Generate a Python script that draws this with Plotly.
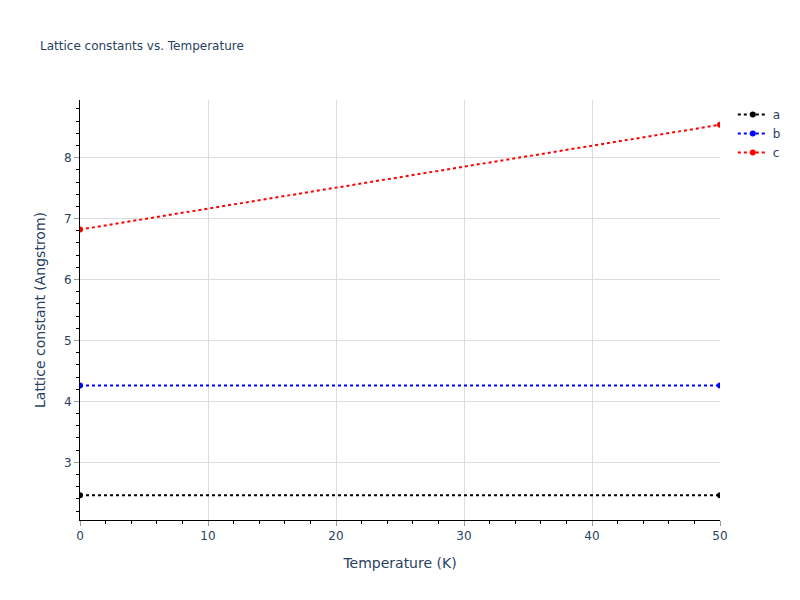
import plotly.graph_objects as go

temperature = [0, 50]
a_vals = [2.46, 2.46]
b_vals = [4.26, 4.26]
c_vals = [6.82, 8.54]
series_names = ["a", "b", "c"]
series_colors = ["black", "blue", "red"]

fig = go.Figure()
for name, vals, col in zip(series_names, [a_vals, b_vals, c_vals], series_colors):
    fig.add_trace(go.Scatter(
        x=temperature, y=vals, name=name, mode="lines+markers",
        line=dict(color=col, width=2, dash="dot"),
        marker=dict(color=col, size=6),
    ))

axis_common = dict(
    showline=True, linecolor="black", linewidth=1,
    ticks="outside", tickcolor="#999999", ticklen=5,
    showgrid=True, gridcolor="#dddddd", gridwidth=1,
    zeroline=False,
    minor=dict(ticks="outside", ticklen=3, tickcolor="black", showgrid=False),
)

fig.update_layout(
    template="plotly_white",
    width=800, height=600,
    font=dict(family="DejaVu Sans", color="#2a3f5f"),
    title=dict(text="Lattice constants vs. Temperature", font=dict(size=12)),
    xaxis=dict(title="Temperature (K)", range=[0, 50], dtick=10,
               minor_dtick=2, **axis_common),
    yaxis=dict(title="Lattice constant (Angstrom)", dtick=1,
               minor_dtick=0.2, **axis_common),
    margin=dict(l=80, r=80, t=100, b=80),
)

fig.write_html("out.html", config={"displayModeBar": False},
               post_script="document.body.style.margin='0';document.body.style.overflow='hidden';")
